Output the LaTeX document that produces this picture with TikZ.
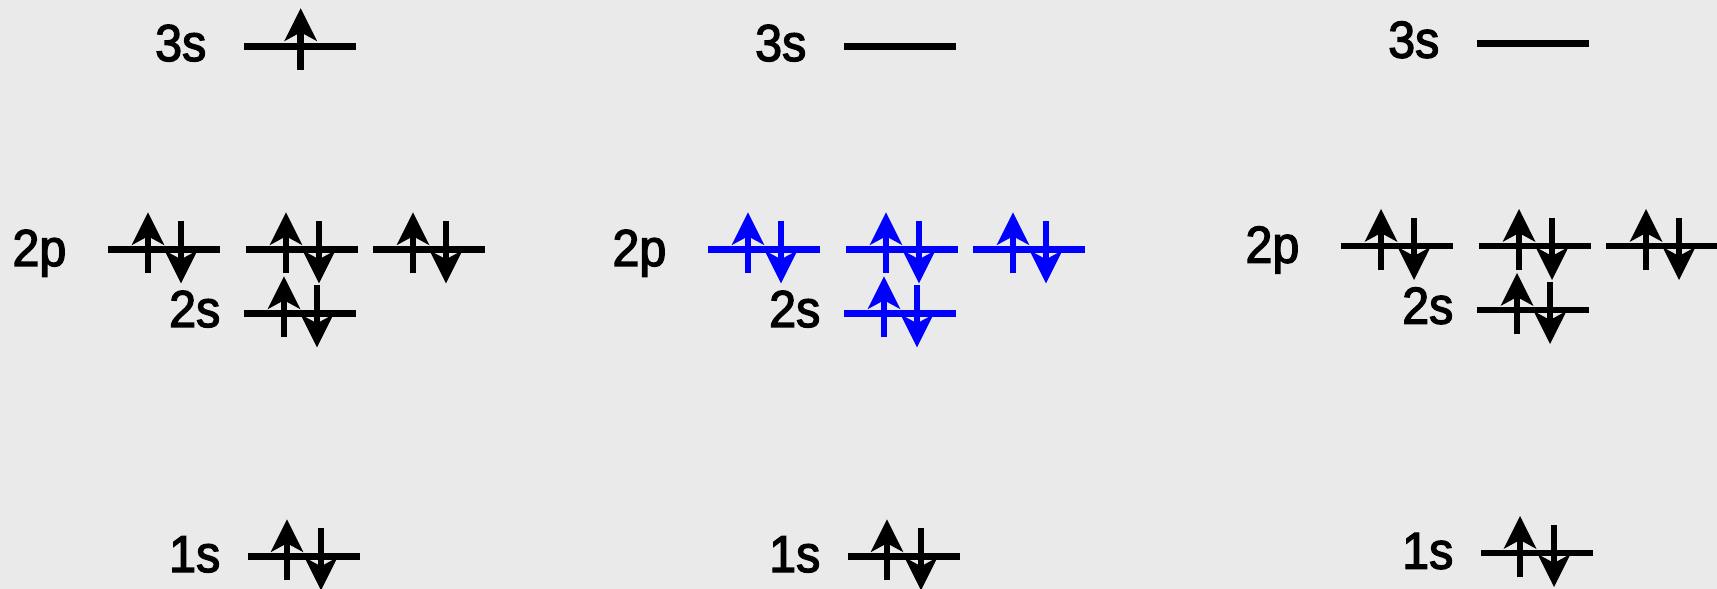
\documentclass[tikz,border=0pt]{standalone}
\usepackage{fontspec}
\newfontfamily\lvfont{Liberation Sans}[FakeBold=2.5, FakeStretch=0.93]
\usetikzlibrary{arrows.meta}
\definecolor{bgcol}{HTML}{EAEAEA}
\begin{document}
\begin{tikzpicture}[x=0.1mm, y=-0.1mm,
	lvl/.style={line width=0.68mm},
	spin/.style={line width=0.68mm, -{Stealth[length=3.3mm, width=3.3mm, inset=0.9mm, line width=0pt]}},
	lbl/.style={font=\lvfont\fontsize{14.8}{17}\selectfont, anchor=base east, inner sep=0pt}]
	\path[use as bounding box, fill=bgcol] (0,0) rectangle (1717,589);
	\foreach \i/\dx/\dy/\col in {a/0/0/black, b/600/0/blue, c/1233/-3.3/black}{
		\begin{scope}[shift={(\dx,\dy)}]
			\node[lbl] (s3-\i) at (207,61) {3s};
			\node[lbl] (p2-\i) at (67,266) {2p};
			\node[lbl] (s2-\i) at (221,327) {2s};
			\node[lbl] (s1-\i) at (221,572) {1s};
			\draw[lvl] (244,46.7) --++(112,0);
			% 2p and 2s levels, filled
			\foreach \px/\py in {108/249.3, 246/249.3, 373/249.3, 244/313.3}{
				\draw[lvl, \col] (\px,\py) --++(112,0);
				\draw[spin, \col] (\px+40,\py+24) --++(0,-61);
				\draw[spin, \col] (\px+73,\py-28) --++(0,62);
			}
			\draw[lvl] (248,556.3) --++(112,0);
			\draw[spin] (287,580.3) --++(0,-61);
			\draw[spin] (321,528.3) --++(0,62);
		\end{scope}
	}
	\draw[spin] (300.7,70) -- (300.7,8.3);
\end{tikzpicture}
\end{document}
